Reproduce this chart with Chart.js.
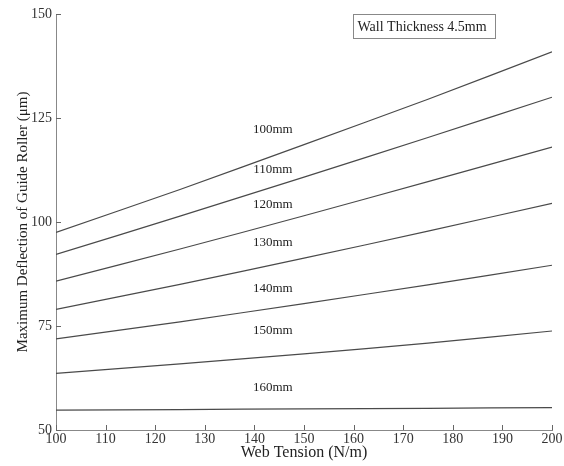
<!DOCTYPE html>
<html>
<head>
<meta charset="utf-8">
<script src="https://cdn.jsdelivr.net/npm/chart.js@4"></script>
<style>
html,body{margin:0;padding:0;background:#fff;}
#wrap{width:564px;height:466px;}
</style>
</head>
<body>
<div id="wrap"><canvas id="c" width="564" height="466"></canvas></div>
<script>
const tensions = [100, 125, 150, 175, 200];
const seriesNames = ['100mm', '110mm', '120mm', '130mm', '140mm', '150mm', '160mm'];
const d100 = [97.5, 107.8, 118.6, 129.5, 140.9];
const d110 = [92.2, 101.4, 110.8, 120.3, 130.0];
const d120 = [85.8, 93.5, 101.5, 109.7, 118.0];
const d130 = [79.0, 85.0, 91.3, 97.8, 104.5];
const d140 = [71.9, 76.0, 80.4, 84.9, 89.6];
const d150 = [63.6, 65.9, 68.3, 70.9, 73.8];
const d160 = [54.8, 54.9, 55.1, 55.2, 55.4];
const labelX = 143.7;
const labelY = [122.1, 112.5, 104.1, 95.0, 84.1, 74.0, 60.1];
const boxText = 'Wall Thickness 4.5mm';

const allData = [d100, d110, d120, d130, d140, d150, d160];
const datasets = allData.map((arr, i) => ({
  label: seriesNames[i],
  data: arr.map((v, j) => ({x: tensions[j], y: v})),
  borderColor: '#4a4a4a',
  borderWidth: 1.2,
  pointRadius: 0,
  tension: 0.2,
  fill: false
}));

const serif = "'Liberation Serif', 'DejaVu Serif', serif";

const extras = {
  id: 'extras',
  afterDraw(chart) {
    const ctx = chart.ctx;
    const xs = chart.scales.x, ys = chart.scales.y;
    const area = chart.chartArea;
    ctx.save();
    ctx.strokeStyle = '#666';
    ctx.lineWidth = 1;
    xs.ticks.forEach(t => {
      const px = Math.round(xs.getPixelForValue(t.value)) + 0.5;
      ctx.beginPath(); ctx.moveTo(px, area.bottom); ctx.lineTo(px, area.bottom - 5); ctx.stroke();
    });
    ys.ticks.forEach(t => {
      const py = Math.round(ys.getPixelForValue(t.value)) + 0.5;
      ctx.beginPath(); ctx.moveTo(area.left, py); ctx.lineTo(area.left + 5, py); ctx.stroke();
    });
    ctx.fillStyle = '#222';
    ctx.font = '13px ' + serif;
    ctx.textAlign = 'center';
    ctx.textBaseline = 'middle';
    seriesNames.forEach((n, i) => {
      ctx.fillText(n, xs.getPixelForValue(labelX), ys.getPixelForValue(labelY[i]));
    });
    ctx.font = '14px ' + serif;
    ctx.textAlign = 'left';
    const bx = 353.5, by = 14.5, bw = 142, bh = 24;
    ctx.fillStyle = '#fff';
    ctx.fillRect(bx, by, bw, bh);
    ctx.strokeStyle = '#888';
    ctx.strokeRect(bx, by, bw, bh);
    ctx.fillStyle = '#222';
    ctx.fillText(boxText, bx + 4, by + bh / 2 + 1);
    ctx.restore();
  }
};

new Chart(document.getElementById('c'), {
  type: 'line',
  data: { datasets },
  options: {
    responsive: false,
    animation: false,
    devicePixelRatio: 1,
    layout: { padding: { top: 14, right: 12, left: 0, bottom: 0 } },
    plugins: { legend: { display: false }, tooltip: { enabled: false } },
    scales: {
      x: {
        type: 'linear',
        min: 100, max: 200,
        ticks: { stepSize: 10, color: '#333', font: { family: serif, size: 14 }, padding: 1, maxRotation: 0 },
        grid: { display: false, drawTicks: false },
        border: { display: true, color: '#888', width: 1 },
        title: { display: true, text: 'Web Tension (N/m)', color: '#222', font: { family: serif, size: 16 }, padding: { top: 0, bottom: 4 } },
        afterFit(s) { s.height = 36; }
      },
      y: {
        type: 'linear',
        min: 50, max: 150,
        ticks: { stepSize: 25, color: '#333', font: { family: serif, size: 14 }, padding: 4 },
        grid: { display: false, drawTicks: false },
        border: { display: true, color: '#888', width: 1 },
        title: { display: true, text: 'Maximum Deflection of Guide Roller (μm)', color: '#222', font: { family: serif, size: 15 }, padding: { top: 14, bottom: 0 } },
        afterFit(s) { s.width = 56; }
      }
    }
  },
  plugins: [extras]
});
</script>
</body>
</html>
